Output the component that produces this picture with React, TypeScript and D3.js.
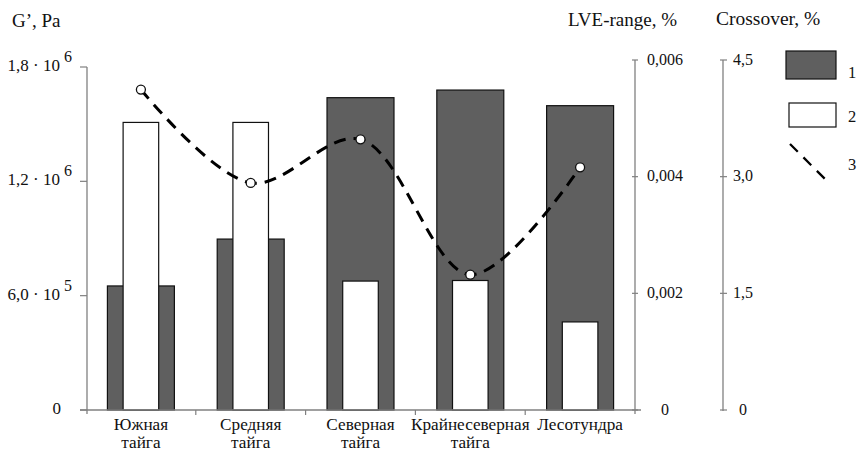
import * as d3 from "d3";

// categories (two-line labels)
const categories: string[][] = [
  ["Южная", "тайга"],
  ["Средняя", "тайга"],
  ["Северная", "тайга"],
  ["Крайнесеверная", "тайга"],
  ["Лесотундра"],
];
// 1 — G', Pa (left axis)
const gModulus = [0.651e6, 0.897e6, 1.639e6, 1.679e6, 1.597e6];
// 2 — LVE-range, %
const lveRange = [0.00493, 0.00493, 0.00221, 0.00222, 0.00151];
// 3 — Crossover, %
const crossover = [4.12, 2.92, 3.48, 1.74, 3.12];

const gTicks = [0, 6e5, 1.2e6, 1.8e6];
const lveTicks = [0, 0.002, 0.004, 0.006];
const crossTicks = [0, 1.5, 3.0, 4.5];
const legendLabels = ["1", "2", "3"];

const W = 859, H = 451;
const FONT = '"Liberation Serif", "DejaVu Serif", serif';
const AXIS = "#808080";
const DARK = "#5f5f5f";

const xLeft = 87, xLve = 635, xCross = 723;
const base = 410;

const comma = (s: string) => s.replace(".", ",");
const txt = { fontFamily: FONT, fill: "#111" };

export default function App() {
  const names = categories.map(c => c.join(" "));
  const x = d3.scaleBand<string>().domain(names).range([86, 635]);
  const yG = d3.scaleLinear().domain([0, 1.8e6]).range([base, 67]);
  const yLve = d3.scaleLinear().domain([0, 0.006]).range([base, 60]);
  const yCross = d3.scaleLinear().domain([0, 4.5]).range([base, 60]);

  const bw = x.bandwidth();
  const cx = (i: number) => (x(names[i]) as number) + bw / 2;

  const line = d3.line<number>()
    .x((_, i) => cx(i))
    .y(d => yCross(d))
    .curve(d3.curveCatmullRom);

  const boundaries = names.slice(1).map(n => x(n) as number);

  return (
    <svg width={W} height={H} style={{ position: "absolute", left: 0, top: 0, background: "#fff" }}>
      <rect width={W} height={H} fill="#fff" />

      {/* axis titles */}
      <text x={12} y={27} fontSize={19} style={txt}>G’, Pa</text>
      <text x={568} y={26} fontSize={19} style={txt}>LVE-range, %</text>
      <text x={716} y={25} fontSize={19.5} style={txt}>Crossover, %</text>

      {/* bars 1 */}
      {gModulus.map((v, i) => (
        <rect key={"g" + i} x={cx(i) - bw * 0.305} width={bw * 0.61}
          y={yG(v)} height={base - yG(v)} fill={DARK} stroke="#111" strokeWidth={1.2} />
      ))}
      {/* bars 2 */}
      {lveRange.map((v, i) => (
        <rect key={"l" + i} x={cx(i) - bw * 0.162} width={bw * 0.324}
          y={yLve(v)} height={base - yLve(v)} fill="#fff" stroke="#111" strokeWidth={1.2} />
      ))}

      {/* left axis */}
      <line x1={xLeft} x2={xLeft} y1={yG(1.8e6)} y2={base + 4} stroke={AXIS} strokeWidth={1.3} />
      {gTicks.map(t => {
        const y = yG(t);
        let label: any = "0";
        if (t !== 0) {
          const e = Math.floor(Math.log10(t));
          const m = comma((t / Math.pow(10, e)).toFixed(1));
          label = [<tspan key="m">{m + " · 10"}</tspan>,
            <tspan key="e" dx={4} dy={-9} fontSize={16}>{e}</tspan>];
        }
        return (
          <g key={"gt" + t}>
            <line x1={xLeft - 7} x2={xLeft} y1={y} y2={y} stroke={AXIS} strokeWidth={1.2} />
            <text x={t === 0 ? 61 : 72} y={y + 4} fontSize={17} style={txt}
              textAnchor="end">{label}</text>
          </g>
        );
      })}

      {/* x axis */}
      <line x1={80} x2={641} y1={base} y2={base} stroke={AXIS} strokeWidth={1.3} />
      {boundaries.map((b, i) => (
        <line key={"xb" + i} x1={b} x2={b} y1={base} y2={base + 5} stroke={AXIS} strokeWidth={1.2} />
      ))}
      {categories.map((c, i) => (
        <g key={"c" + i}>
          {c.map((s, j) => (
            <text key={j} x={cx(i)} y={430 + j * 18} fontSize={17.2} textAnchor="middle" style={txt}>{s}</text>
          ))}
        </g>
      ))}

      {/* LVE axis */}
      <line x1={xLve} x2={xLve} y1={yLve(0.006)} y2={base + 4} stroke={AXIS} strokeWidth={1.3} />
      {lveTicks.map(t => (
        <g key={"lt" + t}>
          <line x1={xLve - 3} x2={xLve + 3} y1={yLve(t)} y2={yLve(t)} stroke={AXIS} strokeWidth={1.2} />
          <text x={665} y={yLve(t)} dy="0.3em" fontSize={16} textAnchor="middle" style={txt}>
            {t === 0 ? "0" : comma(t.toFixed(3))}
          </text>
        </g>
      ))}

      {/* Crossover axis */}
      <line x1={xCross} x2={xCross} y1={yCross(4.5)} y2={base + 1} stroke={AXIS} strokeWidth={1.3} />
      {crossTicks.map(t => (
        <g key={"ct" + t}>
          <line x1={xCross - 3} x2={xCross + 4} y1={yCross(t)} y2={yCross(t)} stroke={AXIS} strokeWidth={1.2} />
          <text x={743} y={yCross(t)} dy="0.3em" fontSize={16} textAnchor="middle" style={txt}>
            {t === 0 ? "0" : comma(t.toFixed(1))}
          </text>
        </g>
      ))}

      {/* line 3 */}
      <path d={line(crossover) ?? ""} fill="none" stroke="#000" strokeWidth={3}
        strokeDasharray="12 8" strokeLinecap="butt" />
      {crossover.map((v, i) => (
        <circle key={"p" + i} cx={cx(i)} cy={yCross(v)} r={4.5}
          fill="#fff" stroke="#111" strokeWidth={1.3} />
      ))}

      {/* legend */}
      <rect x={786} y={51} width={50} height={28} fill={DARK} stroke="#111" strokeWidth={1.2} />
      <rect x={789} y={103} width={47} height={24} fill="#fff" stroke="#111" strokeWidth={1.2} />
      <line x1={790} y1={144} x2={828} y2={182} stroke="#000" strokeWidth={2.3} strokeDasharray="11 8" />
      {legendLabels.map((l, i) => (
        <text key={"lg" + l} x={848} y={[78, 122, 170][i]} fontSize={16.5} style={txt}>{l}</text>
      ))}
    </svg>
  );
}
